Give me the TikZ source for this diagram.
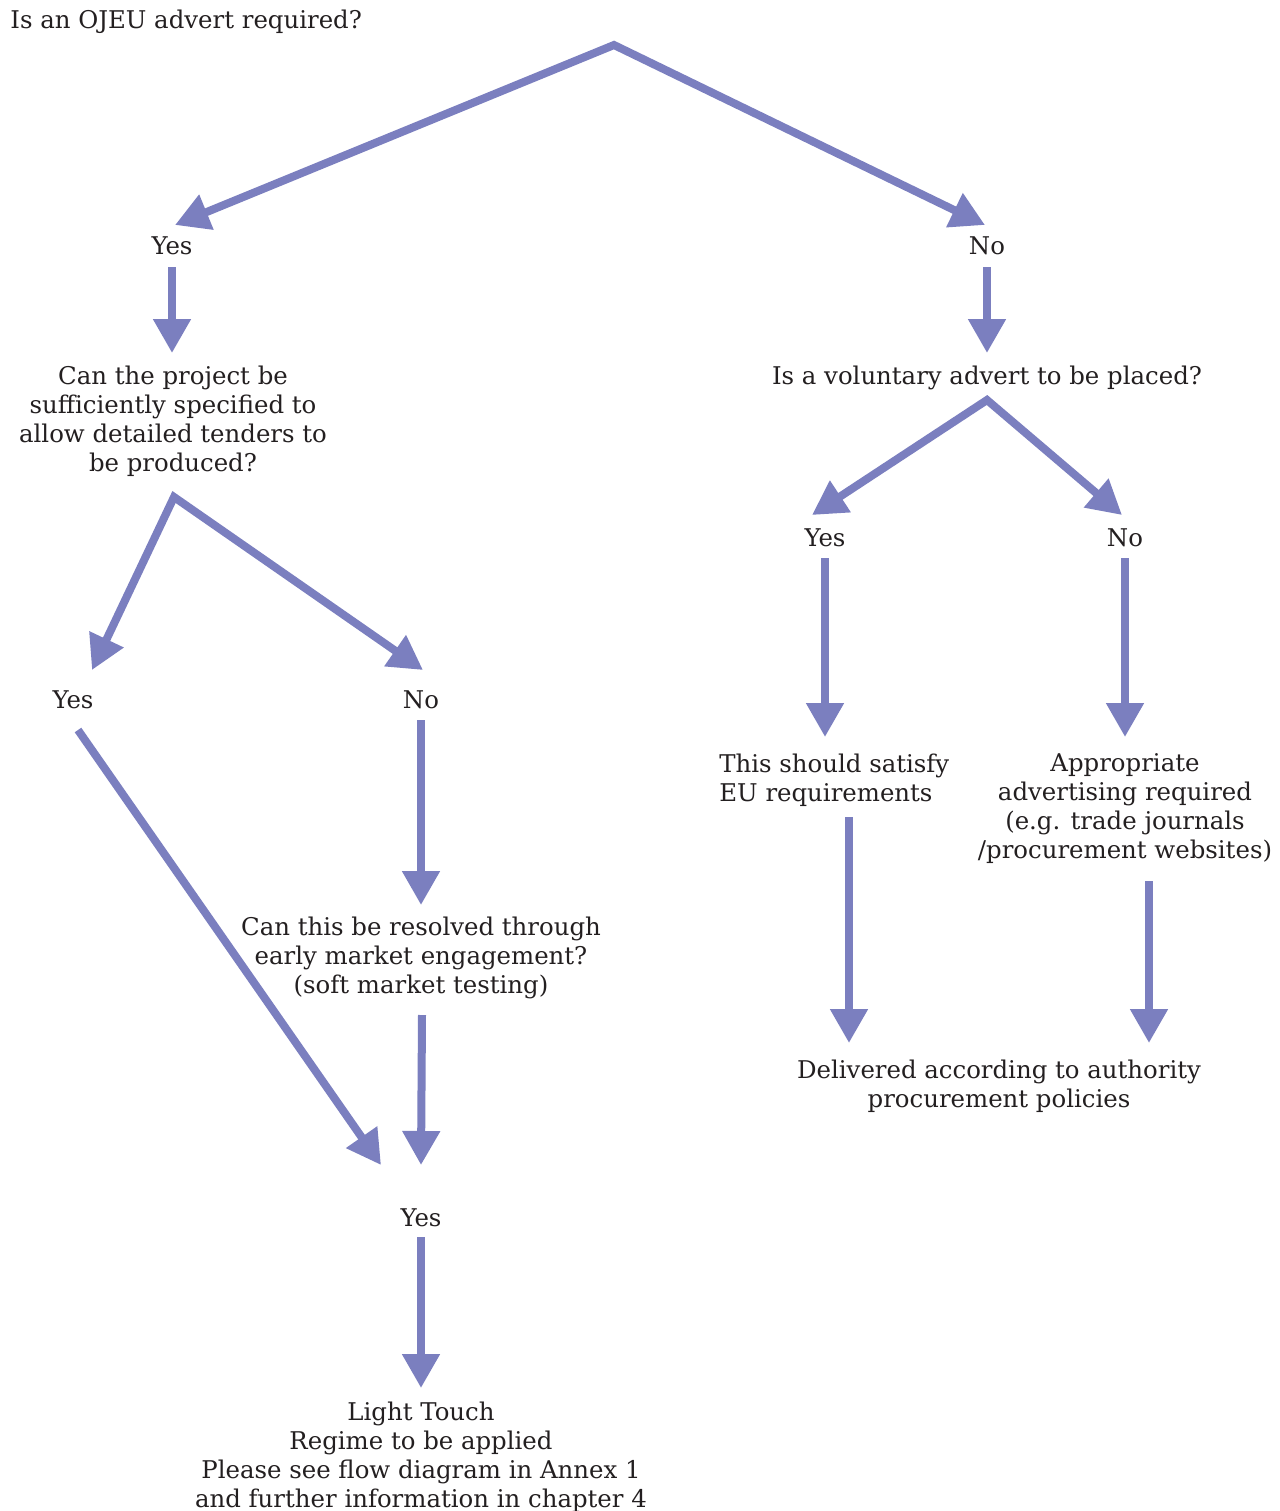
\documentclass[tikz,border=0pt]{standalone}
\usepackage{fontspec}
\setmainfont{DejaVu Serif}
\usetikzlibrary{arrows.meta,calc}
\definecolor{flowline}{RGB}{123,127,191}
\definecolor{ink}{RGB}{35,31,32}
\begin{document}
\begin{tikzpicture}[x=0.5pt,y=-0.5pt,
  lbl/.style={inner sep=0pt, text=ink, font=\fontsize{12.2}{14.5}\selectfont, align=center},
  arr/.style={draw=flowline, line width=4pt, -{Triangle[length=17pt,width=18pt]}},
  fork/.style={draw=flowline, line width=4pt, miter limit=20,
    {Triangle[length=17pt,width=18pt]}-{Triangle[length=17pt,width=18pt]}}]
\useasboundingbox (0,0) rectangle (1280,1511);

% labels
\node[lbl, anchor=west] (title) at (10,22) {Is an OJEU advert required?};
\node[lbl] (yes1) at (172,246) {Yes};
\node[lbl] (no1) at (987,246) {No};
\node[lbl] (q1) at (173,421.5) {Can the project be\\sufficiently specified to\\allow detailed tenders to\\be produced?};
\node[lbl] (q2) at (987,378) {Is a voluntary advert to be placed?};
\node[lbl] (yes2) at (73,700) {Yes};
\node[lbl] (no2) at (421,700) {No};
\node[lbl] (yes3) at (825,538) {Yes};
\node[lbl] (no3) at (1125,538) {No};
\node[lbl, align=left, anchor=west] (sat) at (719,780) {This should satisfy\\EU requirements};
\node[lbl] (adv) at (1125,809) {Appropriate\\advertising required\\(e.g. trade journals\\/procurement websites)};
\node[lbl] (deliv) at (999,1086) {Delivered according to authority\\procurement policies};
\node[lbl] (q3) at (421,958) {Can this be resolved through\\early market engagement?\\(soft market testing)};
\node[lbl] (yes4) at (421,1218) {Yes};
\node[lbl] (light) at (421,1457) {Light Touch\\Regime to be applied\\Please see flow diagram in Annex 1\\and further information in chapter 4};

% branching points
\coordinate (top) at (614,45);
\coordinate (fork1) at ($(q1)+(1,75.5)$);
\coordinate (fork2) at ($(q2)+(0,22)$);

% connectors
\draw[fork] ($(yes1)+(3,-21)$) -- (top) -- ($(no1)+(-2,-21)$);
\draw[arr] ($(yes1)+(0,21)$) -- ($(q1)+(-1,-68.5)$);
\draw[arr] ($(no1)+(0,21)$) -- ($(q2)+(0,-25)$);
\draw[fork] ($(yes2)+(19,-30)$) -- (fork1) -- ($(no2)+(2,-30)$);
\draw[fork] ($(yes3)+(-13,-23)$) -- (fork2) -- ($(no3)+(-3,-23)$);
\draw[arr] ($(yes3)+(0,20)$) -- ($(sat.west)+(106,-43)$);
\draw[arr] ($(no3)+(0,20)$) -- ($(adv)+(0,-72)$);
\draw[arr] ($(sat.west)+(130,37)$) -- ($(deliv)+(-150,-43)$);
\draw[arr] ($(adv)+(24,72)$) -- ($(deliv)+(150,-43)$);
\draw[arr] ($(no2)+(0,20)$) -- ($(q3)+(0,-53)$);
\draw[arr] ($(q3)+(1,57)$) -- ($(yes4)+(0,-53)$);
\draw[arr] ($(yes2)+(5,30)$) -- ($(yes4)+(-40,-53)$);
\draw[arr] ($(yes4)+(0,19)$) -- ($(light)+(0,-69)$);
\end{tikzpicture}
\end{document}
